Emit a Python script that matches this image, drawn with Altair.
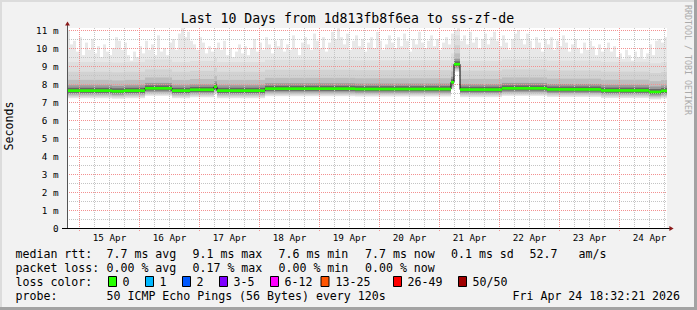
import altair as alt
import pandas as pd

MONO = "DejaVu Sans Mono"

# ---------------- data ----------------
title_text = "Last 10 Days from 1d813fb8f6ea to ss-zf-de"
y_title = "Seconds"
credit = "RRDTOOL / TOBI OETIKER"

day_label_dates = [15, 16, 17, 18, 19, 20, 21, 22, 23, 24]
y_label_values = [0, 1, 2, 3, 4, 5, 6, 7, 8, 9, 10, 11]

# median rtt per 72-minute column (ms)
median_ms = [
    7.63, 7.63, 7.63, 7.63, 7.63, 7.63, 7.63, 7.63, 7.63, 7.63, 7.63, 7.63, 7.63, 7.63, 7.63, 7.60, 7.60, 7.60, 7.60, 7.63,
    7.63, 7.63, 7.63, 7.63, 7.63, 7.63, 7.76, 7.76, 7.76, 7.76, 7.76, 7.76, 7.76, 7.76, 7.76, 7.63, 7.63, 7.63, 7.63, 7.63,
    7.63, 7.68, 7.68, 7.68, 7.68, 7.68, 7.68, 7.68, 7.68, 7.85, 7.63, 7.63, 7.63, 7.63, 7.63, 7.63, 7.63, 7.63, 7.63, 7.63,
    7.63, 7.63, 7.63, 7.63, 7.63, 7.63, 7.74, 7.74, 7.74, 7.74, 7.74, 7.74, 7.74, 7.74, 7.74, 7.74, 7.74, 7.74, 7.74, 7.74,
    7.74, 7.74, 7.74, 7.74, 7.74, 7.74, 7.74, 7.74, 7.74, 7.74, 7.74, 7.74, 7.74, 7.74, 7.74, 7.74, 7.72, 7.72, 7.72, 7.72,
    7.72, 7.72, 7.72, 7.72, 7.72, 7.72, 7.72, 7.72, 7.72, 7.72, 7.72, 7.72, 7.72, 7.72, 7.72, 7.72, 7.72, 7.72, 7.72, 7.72,
    7.72, 7.72, 7.72, 7.72, 7.72, 7.72, 7.72, 7.72, 8.10, 9.10, 9.10, 7.69, 7.69, 7.69, 7.69, 7.69, 7.69, 7.69, 7.69, 7.69,
    7.69, 7.69, 7.69, 7.69, 7.69, 7.76, 7.76, 7.76, 7.76, 7.76, 7.76, 7.76, 7.76, 7.76, 7.76, 7.76, 7.76, 7.76, 7.76, 7.76,
    7.70, 7.70, 7.70, 7.70, 7.70, 7.70, 7.70, 7.70, 7.70, 7.70, 7.70, 7.70, 7.70, 7.70, 7.70, 7.70, 7.70, 7.70, 7.64, 7.64,
    7.64, 7.64, 7.64, 7.64, 7.64, 7.64, 7.64, 7.64, 7.64, 7.64, 7.64, 7.64, 7.64, 7.64, 7.56, 7.56, 7.56, 7.56, 7.62, 7.62,
]

# slowest ping per column (ms) - top of the smoke
top_ms = [
    11.0, 10.2, 10.4, 9.8, 10.6, 9.6, 10.3, 9.9, 10.5, 9.7,
    10.1, 9.5, 10.2, 9.8, 9.6, 10.0, 10.6, 10.4, 9.9, 10.3,
    9.6, 9.3, 9.8, 9.5, 10.1, 9.7, 10.4, 9.9, 10.2, 9.6,
    10.7, 9.8, 10.0, 9.6, 10.3, 10.5, 9.9, 10.8, 11.1, 10.6,
    10.9, 10.4, 10.2, 9.9, 10.6, 10.3, 9.7, 10.1, 9.8, 10.0,
    10.3, 9.9, 10.4, 9.6, 10.0, 9.5, 9.8, 10.2, 9.7, 10.1,
    9.6, 10.0, 10.5, 9.8, 10.3, 9.9, 10.6, 10.2, 9.7, 10.4,
    10.1, 10.5, 9.8, 10.2, 9.9, 10.7, 10.0, 9.6, 10.3, 10.6,
    10.2, 9.9, 10.8, 10.4, 10.0, 10.6, 9.8, 10.3, 10.9, 10.5,
    11.1, 10.6, 10.2, 10.8, 9.9, 10.4, 10.7, 10.1, 10.5, 9.8,
    10.3, 10.6, 10.0, 10.9, 10.4, 9.9, 10.2, 10.7, 10.3, 10.0,
    10.6, 10.1, 10.8, 10.4, 9.8, 10.5, 10.2, 10.9, 10.3, 10.0,
    10.4, 10.7, 10.1, 10.5, 9.9, 10.3, 10.6, 10.2, 10.8, 11.0,
    11.1, 10.4, 10.7, 10.2, 10.9, 10.3, 10.6, 10.0, 10.5, 10.8,
    10.2, 10.6, 10.9, 10.4, 10.1, 10.7, 10.3, 9.9, 10.5, 10.8,
    11.0, 10.5, 10.2, 10.8, 10.4, 10.0, 10.6, 10.3, 9.8, 10.5,
    10.2, 10.6, 9.9, 10.4, 10.1, 10.7, 10.3, 9.8, 10.2, 10.5,
    10.0, 9.7, 10.3, 9.9, 10.4, 10.1, 9.6, 10.2, 9.8, 10.0,
    10.3, 9.8, 10.1, 9.5, 9.7, 9.4, 9.9, 9.6, 9.3, 9.8,
    9.5, 10.0, 9.4, 9.7, 10.2, 9.6, 10.4, 10.5, 10.3, 10.6,
]

# smoke bands relative to the median: (below, above, gray)
smoke_below = [0.42, 0.38, 0.33, 0.27, 0.20, 0.12]
smoke_above = [None, 1.60, 1.05, 0.60, 0.30, 0.16]
smoke_gray = ["#E8E8E8", "#DEDEDE", "#D2D2D2", "#BDBDBD", "#9A9A9A", "#666666"]

loss_labels = ["0", "1", "2", "3-5", "6-12", "13-25", "26-49", "50/50"]
loss_colors = ["#26FF00", "#00B8FF", "#0059FF", "#7E00FF", "#FF00FF", "#FF5500", "#FF0000", "#A10000"]

rtt_items = ["median rtt:", "7.7 ms avg", "9.1 ms max", "7.6 ms min", "7.7 ms now", "0.1 ms sd", "52.7", "am/s"]
loss_items = ["packet loss:", "0.00 % avg", "0.17 % max", "0.00 % min", "0.00 % now"]
loss_color_title = "loss color:"
probe_items = ["probe:", "50 ICMP Echo Pings (56 Bytes) every 120s", "Fri Apr 24 18:32:21 2026"]

# ---------------- layout ----------------
PL, PT = 67, 28          # plot origin in page pixels
W, H = 600, 200
start = pd.Timestamp("2026-04-14 19:12:00")
step = pd.Timedelta(minutes=72)
ncol = len(median_ms)

xs = alt.Scale(domain=[alt.DateTime(year=2026, month=4, date=14, hours=19, minutes=12),
                       alt.DateTime(year=2026, month=4, date=24, hours=19, minutes=12)])
ys = alt.Scale(domain=[0, 200 / 18], nice=False, zero=False)

cols = pd.DataFrame({
    "t0": [start + i * step for i in range(ncol)],
    "t1": [start + (i + 1) * step for i in range(ncol)],
    "tc": [start + i * step + step / 2 for i in range(ncol)],
    "median": median_ms,
    "top": top_ms,
})

rows = []
for b in range(len(smoke_gray)):
    for _, r in cols.iterrows():
        hi = r["top"] if smoke_above[b] is None else min(r["top"], r["median"] + smoke_above[b])
        rows.append({"t0": r["t0"], "t1": r["t1"], "lo": r["median"] - smoke_below[b], "hi": hi,
                     "c": smoke_gray[b], "ord": b})
smoke = pd.DataFrame(rows)

green = cols.copy()
green["lo"] = green["median"] - 0.075
green["hi"] = green["median"] + 0.075
green["c"] = loss_colors[0]

vmajor = pd.DataFrame({"t": [pd.Timestamp(f"2026-04-{d:02d} 00:00:00") for d in day_label_dates]})
vminor = pd.DataFrame({"t": [pd.Timestamp(f"2026-04-{d:02d} {h:02d}:00:00")
                             for d in day_label_dates for h in (6, 12, 18)]})
hmajor = pd.DataFrame({"v": [v for v in y_label_values if v > 0]})
hminor = pd.DataFrame({"v": [v + 0.5 for v in y_label_values if v < 11]})

one = pd.DataFrame({"k": [0]})

RED_GRID = "#F39090"
GRAY_GRID = "#C4C4C4"

x_axis = alt.Axis(
    title=None, values=[alt.DateTime(year=2026, month=4, date=d, hours=12) for d in day_label_dates],
    format="%d %b", labelFont=MONO, labelFontSize=9.3, labelColor="#000000", ticks=False, domain=False,
    grid=False, labelPadding=5, labelFlush=False, labelOverlap=False)
y_axis = alt.Axis(
    title=None, values=y_label_values, labelFont=MONO, labelFontSize=9.3, labelColor="#000000",
    labelExpr="datum.value == 0 ? '0\u00a0\u00a0' : datum.value + ' m'",
    ticks=False, domain=False, grid=False, labelPadding=9)


def X(f):
    return alt.X(f, scale=xs, axis=x_axis)


def Y(f):
    return alt.Y(f, scale=ys, axis=y_axis)


layers = []
layers.append(alt.Chart(smoke).mark_rect().encode(
    x=X("t0:T"), x2="t1:T", y=Y("lo:Q"), y2="hi:Q",
    color=alt.Color("c:N", scale=None)))

# grid
layers.append(alt.Chart(vminor).mark_rule(color=GRAY_GRID, strokeDash=[1, 1], xOffset=0.5).encode(
    x=X("t:T"), y=alt.value(0), y2=alt.value(H)))
layers.append(alt.Chart(hminor).mark_rule(color=GRAY_GRID, strokeDash=[1, 1], yOffset=0.5).encode(
    y=Y("v:Q"), x=alt.value(0), x2=alt.value(W)))
layers.append(alt.Chart(vmajor).mark_rule(color=RED_GRID, strokeDash=[1, 1], xOffset=0.5).encode(
    x=X("t:T"), y=alt.value(0), y2=alt.value(H + 3)))
layers.append(alt.Chart(hmajor).mark_rule(color=RED_GRID, strokeDash=[1, 1], yOffset=0.5).encode(
    y=Y("v:Q"), x=alt.value(0), x2=alt.value(W)))

# median
layers.append(alt.Chart(cols).mark_line(interpolate="step", color="#000000", strokeWidth=1).encode(
    x=X("tc:T"), y=Y("median:Q")))
layers.append(alt.Chart(green).mark_rect().encode(
    x=X("t0:T"), x2="t1:T", y=Y("lo:Q"), y2="hi:Q",
    color=alt.Color("c:N", scale=None)))

# axis lines and arrows
layers.append(alt.Chart(one).mark_rule(color="#000000").encode(
    x=alt.value(-5), x2=alt.value(W + 3), y=alt.value(H + 0.5)))
layers.append(alt.Chart(one).mark_rule(color="#555555").encode(
    x=alt.value(0.5), y=alt.value(-4), y2=alt.value(H)))
layers.append(alt.Chart(one).mark_point(shape="triangle-up", filled=True, size=24, color="#8B1A1A", opacity=1).encode(
    x=alt.value(0.5), y=alt.value(-4.5)))
layers.append(alt.Chart(one).mark_point(shape="triangle-right", filled=True, size=24, color="#8B1A1A", opacity=1).encode(
    x=alt.value(W + 4.5), y=alt.value(H + 0.5)))


def txt(s, x, y, size=11.6, color="#000000", align="left", angle=0):
    return alt.Chart(one).mark_text(text=s, font=MONO, fontSize=size, color=color, align=align,
                                    baseline="middle", angle=angle).encode(
        x=alt.value(x - PL), y=alt.value(y - PT))


layers.append(txt(title_text, 347.5, 19, size=13.2, align="center"))
layers.append(txt(y_title, 10, 126, size=11.6, align="center", angle=270))
layers.append(txt(credit, 686.5, 60, size=8.3, color="#AAAAAA", align="center", angle=90))

rtt_x = [15.5, 106.5, 192.5, 278.5, 365, 451, 529.5, 578.5]
for s, x in zip(rtt_items, rtt_x):
    layers.append(txt(s, x, 254.5))
loss_x = [15.5, 106.5, 192.5, 278.5, 365]
for s, x in zip(loss_items, loss_x):
    layers.append(txt(s, x, 268.5))
layers.append(txt(loss_color_title, 15.5, 282.5))
box_x = [108.5, 145.5, 182.5, 219.5, 270.5, 321, 393.5, 458.5]
lab_x = [122.5, 159.5, 196.5, 233.5, 284.5, 335.5, 407.5, 472.5]
for lab, c, bx, lx in zip(loss_labels, loss_colors, box_x, lab_x):
    layers.append(alt.Chart(one).mark_rect(color=c, stroke="#000000", strokeWidth=1).encode(
        x=alt.value(bx - PL), x2=alt.value(bx - PL + 8), y=alt.value(276.5 - PT), y2=alt.value(286.5 - PT)))
    layers.append(txt(lab, lx, 282.5))
probe_x = [15.5, 106.5, 512.5]
for s, x in zip(probe_items, probe_x):
    layers.append(txt(s, x, 296.5))


def frame(x1, x2, y1, y2, c):
    return alt.Chart(one).mark_rect(color=c).encode(
        x=alt.value(x1 - PL), x2=alt.value(x2 - PL), y=alt.value(y1 - PT), y2=alt.value(y2 - PT))


layers.append(frame(0, 697, 0, 2, "#DCDCDC"))
layers.append(frame(0, 2, 0, 310, "#DCDCDC"))
layers.append(frame(694, 697, 0, 310, "#A3A3A3"))
layers.append(frame(0, 697, 307, 310, "#A3A3A3"))

chart = alt.layer(*layers).properties(
    width=W, height=H,
    padding={"left": PL, "top": PT, "right": 697 - PL - W, "bottom": 310 - PT - H},
    autosize=alt.AutoSizeParams(type="none"),
    background="#F2F2F2",
).configure_view(fill="#FFFFFF", strokeWidth=0)

chart.save("out.html", embed_options={"renderer": "svg", "actions": False})
